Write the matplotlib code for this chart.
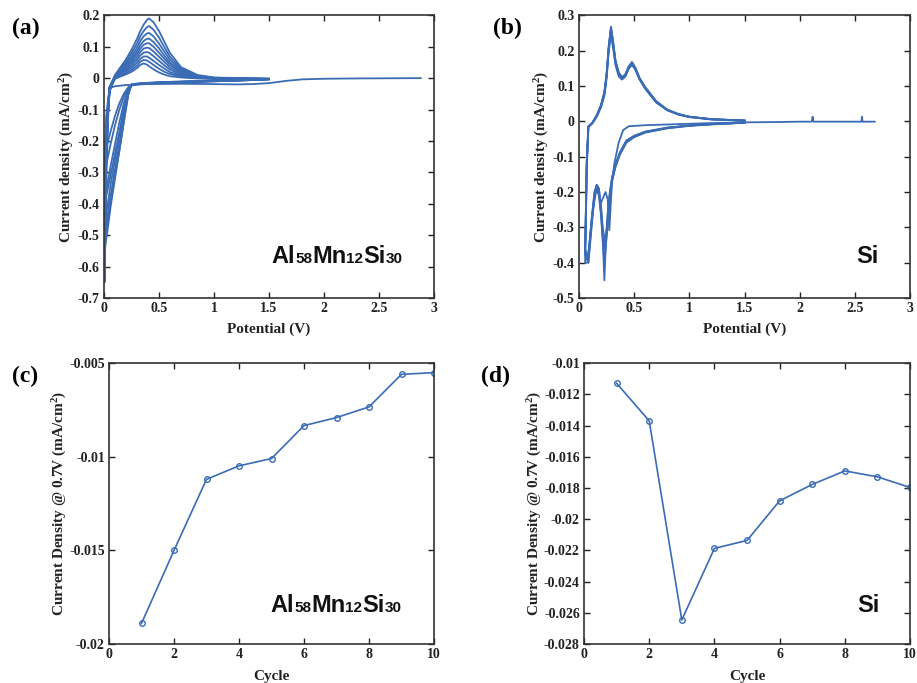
import numpy as np
import matplotlib
matplotlib.use("Agg")
import matplotlib.pyplot as plt
from matplotlib.ticker import FuncFormatter
from matplotlib.offsetbox import TextArea, HPacker, AnchoredOffsetbox

plt.rcParams.update({"font.family": "Liberation Serif", "font.weight": "bold",
    "axes.unicode_minus": False, "mathtext.fontset": "custom",
    "mathtext.rm": "Liberation Serif:bold", "mathtext.bf": "Liberation Serif:bold",
    "mathtext.it": "Liberation Serif:bold"})
BLUE = "#3a6cb5"
W, H = 917, 683

# ---------------- (a) Al58Mn12Si30 CV ----------------
a_first_cat_v = [2.88, 2.6, 2.3, 2.0, 1.8, 1.65, 1.5, 1.35, 1.2, 1.0, 0.7, 0.4, 0.2, 0.1, 0.06, 0.04, 0.02, 0.005]
a_first_cat_i = [0.0, -0.0005, -0.001, -0.002, -0.004, -0.009, -0.016, -0.019, -0.020, -0.019, -0.018,
                 -0.019, -0.022, -0.026, -0.03, -0.08, -0.35, -0.65]
a_cat_v = [1.5, 1.2, 0.9, 0.6, 0.4, 0.3, 0.25, 0.22, 0.18, 0.14, 0.1, 0.06, 0.03, 0.005]
a_cat_i = [
    [-0.004, -0.008, -0.011, -0.014, -0.017, -0.019, -0.022, -0.03, -0.06, -0.1, -0.15, -0.21, -0.26, -0.30],
    [-0.003, -0.007, -0.010, -0.013, -0.016, -0.019, -0.021, -0.045, -0.12, -0.21, -0.29, -0.38, -0.46, -0.52],
    [-0.004, -0.008, -0.011, -0.014, -0.017, -0.02, -0.023, -0.035, -0.08, -0.14, -0.21, -0.28, -0.34, -0.38],
    [-0.003, -0.007, -0.010, -0.013, -0.016, -0.019, -0.021, -0.05, -0.13, -0.22, -0.3, -0.38, -0.44, -0.48],
    [-0.004, -0.008, -0.011, -0.014, -0.017, -0.02, -0.024, -0.03, -0.05, -0.08, -0.12, -0.17, -0.21, -0.25],
    [-0.003, -0.007, -0.010, -0.013, -0.016, -0.018, -0.021, -0.04, -0.1, -0.18, -0.26, -0.34, -0.41, -0.45],
    [-0.003, -0.006, -0.009, -0.012, -0.015, -0.018, -0.02, -0.05, -0.14, -0.23, -0.32, -0.41, -0.49, -0.55],
    [-0.003, -0.007, -0.010, -0.013, -0.016, -0.018, -0.021, -0.04, -0.1, -0.17, -0.24, -0.31, -0.36, -0.40],
    [-0.003, -0.006, -0.009, -0.012, -0.015, -0.018, -0.02, -0.055, -0.14, -0.23, -0.31, -0.39, -0.46, -0.50],
]
a_an_v = [0.005, 0.02, 0.05, 0.1, 0.15, 0.2, 0.25, 0.3, 0.33, 0.36, 0.39, 0.41, 0.45, 0.5, 0.55, 0.6, 0.7, 0.85, 1.0, 1.5]
a_an_i = [
    [-0.65, -0.25, -0.04, -0.002, 0.005, 0.012, 0.02, 0.032, 0.042, 0.047, 0.043, 0.038, 0.028, 0.018, 0.011, 0.006, 0.002, -0.001, -0.002, -0.003],
    [-0.30, -0.14, -0.035, -0.001, 0.008, 0.016, 0.026, 0.040, 0.052, 0.058, 0.056, 0.052, 0.042, 0.030, 0.020, 0.013, 0.005, 0.000, -0.002, -0.003],
    [-0.52, -0.20, -0.03, 0.000, 0.010, 0.021, 0.033, 0.049, 0.061, 0.069, 0.069, 0.065, 0.055, 0.042, 0.030, 0.019, 0.008, 0.001, -0.001, -0.003],
    [-0.38, -0.16, -0.035, 0.001, 0.013, 0.025, 0.040, 0.058, 0.072, 0.081, 0.083, 0.081, 0.070, 0.055, 0.040, 0.027, 0.011, 0.002, -0.001, -0.003],
    [-0.48, -0.19, -0.03, 0.003, 0.016, 0.030, 0.047, 0.067, 0.083, 0.094, 0.097, 0.096, 0.085, 0.068, 0.051, 0.034, 0.015, 0.003, -0.001, -0.003],
    [-0.25, -0.12, -0.03, 0.004, 0.019, 0.035, 0.054, 0.077, 0.094, 0.106, 0.111, 0.111, 0.100, 0.081, 0.061, 0.042, 0.018, 0.004, 0.000, -0.003],
    [-0.45, -0.18, -0.032, 0.005, 0.022, 0.040, 0.061, 0.086, 0.105, 0.118, 0.125, 0.126, 0.115, 0.095, 0.071, 0.049, 0.021, 0.005, 0.000, -0.002],
    [-0.55, -0.22, -0.03, 0.006, 0.026, 0.046, 0.069, 0.097, 0.118, 0.133, 0.142, 0.144, 0.133, 0.110, 0.084, 0.058, 0.025, 0.007, 0.001, -0.002],
    [-0.40, -0.17, -0.03, 0.008, 0.030, 0.052, 0.079, 0.110, 0.133, 0.150, 0.162, 0.166, 0.154, 0.129, 0.098, 0.068, 0.030, 0.008, 0.001, -0.002],
    [-0.50, -0.20, -0.03, 0.010, 0.035, 0.060, 0.090, 0.125, 0.150, 0.170, 0.185, 0.190, 0.178, 0.150, 0.115, 0.080, 0.035, 0.010, 0.002, -0.002],
]

# ---------------- (b) Si CV ----------------
b_first_cat_v = [2.68, 2.57, 2.565, 2.56, 2.5, 2.2, 2.125, 2.117, 2.11, 2.0, 1.8, 1.5, 1.2, 0.9, 0.6, 0.45, 0.4,
                 0.36, 0.32, 0.3, 0.285, 0.275, 0.26, 0.24, 0.2, 0.16, 0.12, 0.09, 0.07, 0.055]
b_first_cat_i = [-0.001, -0.001, 0.013, -0.001, -0.001, -0.001, -0.001, 0.013, -0.001, -0.001, -0.002, -0.003,
                 -0.005, -0.008, -0.011, -0.014, -0.025, -0.06, -0.12, -0.17, -0.25, -0.308, -0.22, -0.2, -0.23,
                 -0.19, -0.26, -0.36, -0.39, -0.37]
b_cat_v = [1.5, 1.2, 1.0, 0.8, 0.6, 0.5, 0.43, 0.37, 0.33, 0.3, 0.28, 0.26, 0.245, 0.23, 0.215, 0.2, 0.18,
           0.16, 0.14, 0.12, 0.1, 0.085, 0.07, 0.06, 0.055]
b_cat_i = [
    [-0.004, -0.008, -0.012, -0.018, -0.03, -0.042, -0.055, -0.09, -0.125, -0.16, -0.2, -0.26, -0.33, -0.45, -0.33, -0.26, -0.2, -0.185, -0.21, -0.27, -0.34, -0.4, -0.39, -0.375, -0.37],
    [-0.004, -0.009, -0.013, -0.02, -0.032, -0.045, -0.06, -0.095, -0.13, -0.17, -0.22, -0.3, -0.34, -0.33, -0.3, -0.24, -0.19, -0.18, -0.2, -0.26, -0.33, -0.39, -0.385, -0.38, -0.38],
    [-0.004, -0.008, -0.012, -0.019, -0.031, -0.043, -0.058, -0.092, -0.128, -0.165, -0.21, -0.28, -0.32, -0.36, -0.31, -0.25, -0.19, -0.18, -0.205, -0.265, -0.33, -0.385, -0.38, -0.365, -0.36],
    [-0.004, -0.008, -0.012, -0.018, -0.029, -0.041, -0.054, -0.088, -0.122, -0.158, -0.2, -0.27, -0.35, -0.4, -0.34, -0.27, -0.205, -0.19, -0.215, -0.28, -0.35, -0.4, -0.4, -0.4, -0.4],
]
b_an_v = [0.055, 0.06, 0.07, 0.085, 0.12, 0.16, 0.2, 0.23, 0.25, 0.27, 0.29, 0.31, 0.33, 0.36, 0.39, 0.42,
          0.45, 0.48, 0.51, 0.55, 0.6, 0.7, 0.8, 0.9, 1.0, 1.2, 1.5]
b_an_i = [
    [-0.37, -0.3, -0.12, -0.015, -0.006, 0.012, 0.04, 0.072, 0.12, 0.2, 0.245, 0.205, 0.16, 0.127, 0.118, 0.127, 0.148, 0.16, 0.146, 0.118, 0.092, 0.053, 0.031, 0.019, 0.012, 0.005, 0.002],
    [-0.37, -0.3, -0.12, -0.015, -0.005, 0.015, 0.045, 0.08, 0.13, 0.21, 0.265, 0.22, 0.17, 0.135, 0.122, 0.13, 0.152, 0.165, 0.15, 0.12, 0.095, 0.055, 0.032, 0.02, 0.013, 0.006, 0.002],
    [-0.38, -0.31, -0.13, -0.016, -0.005, 0.016, 0.047, 0.083, 0.135, 0.215, 0.268, 0.224, 0.173, 0.138, 0.125, 0.133, 0.155, 0.168, 0.152, 0.122, 0.097, 0.057, 0.033, 0.021, 0.013, 0.006, 0.002],
    [-0.36, -0.29, -0.11, -0.014, -0.004, 0.014, 0.043, 0.078, 0.127, 0.205, 0.258, 0.215, 0.166, 0.132, 0.12, 0.128, 0.15, 0.162, 0.148, 0.119, 0.094, 0.054, 0.032, 0.02, 0.012, 0.006, 0.002],
    [-0.4, -0.33, -0.14, -0.017, -0.005, 0.016, 0.046, 0.082, 0.133, 0.212, 0.262, 0.222, 0.172, 0.137, 0.124, 0.132, 0.154, 0.166, 0.151, 0.121, 0.096, 0.056, 0.033, 0.02, 0.013, 0.006, 0.002],
]

# ---------------- (c), (d) current density @ 0.7 V ----------------
cycles = [1, 2, 3, 4, 5, 6, 7, 8, 9, 10]
j_alloy = [-0.0189, -0.0150, -0.0112, -0.01048, -0.01009, -0.00833, -0.0079, -0.00733, -0.00559, -0.0055]
j_si = [-0.01128, -0.01369, -0.02646, -0.02187, -0.02136, -0.01882, -0.01777, -0.0169, -0.01728, -0.01796]

fig = plt.figure(figsize=(W / 100, H / 100), dpi=100)

def px_axes(l, r, t, b):
    return fig.add_axes([l / W, 1 - b / H, (r - l) / W, (b - t) / H])

def style(ax):
    ax.tick_params(direction="in", top=True, right=True, length=4, width=1, labelsize=10, pad=3,
                   colors="#222222")
    for s in ax.spines.values():
        s.set_linewidth(1.2); s.set_color("#333333")
    fmt = FuncFormatter(lambda v, p: "%g" % (round(v, 6) + 0.0))
    ax.xaxis.set_major_formatter(fmt); ax.yaxis.set_major_formatter(fmt)
    for t in ax.get_xticklabels() + ax.get_yticklabels():
        t.set_fontweight("bold")

def labels(ax, xl, yl, xy, yx):
    ax.set_xlabel(xl, fontsize=11, fontweight="bold", color="#222222")
    ax.set_ylabel(yl, fontsize=11, fontweight="bold", color="#222222")
    ax.xaxis.set_label_coords(0.5, xy); ax.yaxis.set_label_coords(yx, 0.5)

def tag(ax, parts, xf, yf):
    kids = [TextArea(t, textprops=dict(family="Liberation Sans", weight="bold", size=s, color="#111111"))
            for t, s in parts]
    box = HPacker(children=kids, align="baseline", pad=0, sep=0)
    ab = AnchoredOffsetbox(loc="lower right", child=box, pad=0, borderpad=0, frameon=False,
                           bbox_to_anchor=(xf, yf), bbox_transform=ax.transAxes)
    ax.add_artist(ab)

alloy = [("Al", 17), ("58", 11), ("Mn", 17), ("12", 11), ("Si", 17), ("30", 11)]
si = [("Si", 17)]
ylab_cv = "Current density (mA/cm$^2$)"
ylab_j = "Current Density @ 0.7V (mA/cm$^2$)"

# (a)
ax = px_axes(104, 434, 15.3, 298)
ax.plot(a_first_cat_v + a_an_v, a_first_cat_i + a_an_i[0], color=BLUE, lw=1.3)
for k in range(1, len(a_an_i)):
    ax.plot(a_cat_v + a_an_v, a_cat_i[k - 1] + a_an_i[k], color=BLUE, lw=1.3)
ax.set_xlim(0, 3); ax.set_ylim(-0.7, 0.2)
ax.set_xticks(np.arange(0, 3.01, 0.5)); ax.set_yticks(np.arange(-0.7, 0.21, 0.1))
style(ax)
labels(ax, "Potential (V)", ylab_cv, -0.085, -0.085)
tag(ax, alloy, 0.905, 0.105)

# (b)
ax = px_axes(579, 910, 15.3, 298)
ax.plot(b_first_cat_v + b_an_v, b_first_cat_i + b_an_i[0], color=BLUE, lw=1.3)
for k in range(1, len(b_an_i)):
    ax.plot(b_cat_v + b_an_v, b_cat_i[k - 1] + b_an_i[k], color=BLUE, lw=1.3)
ax.set_xlim(0, 3); ax.set_ylim(-0.5, 0.3)
ax.set_xticks(np.arange(0, 3.01, 0.5)); ax.set_yticks(np.arange(-0.5, 0.31, 0.1))
style(ax)
labels(ax, "Potential (V)", ylab_cv, -0.085, -0.085)
tag(ax, si, 0.905, 0.105)

# (c)
ax = px_axes(109, 434, 363.3, 644)
ax.plot(cycles, j_alloy, color=BLUE, lw=1.2, marker="o", ms=4, mfc="none", mew=1)
ax.set_xlim(0, 10); ax.set_ylim(-0.02, -0.005)
ax.set_xticks(range(0, 11, 2)); ax.set_yticks([-0.02, -0.015, -0.01, -0.005])
style(ax)
labels(ax, "Cycle", ylab_j, -0.092, -0.122)
tag(ax, alloy, 0.9, 0.095)

# (d)
ax = px_axes(584, 910, 363.3, 644)
ax.plot(cycles, j_si, color=BLUE, lw=1.2, marker="o", ms=4, mfc="none", mew=1)
ax.set_xlim(0, 10); ax.set_ylim(-0.028, -0.01)
ax.set_xticks(range(0, 11, 2)); ax.set_yticks(np.arange(-0.028, -0.0099, 0.002))
style(ax)
labels(ax, "Cycle", ylab_j, -0.092, -0.122)
tag(ax, si, 0.905, 0.095)

for lab, x, y in [("(a)", 12, 28), ("(b)", 493, 28), ("(c)", 12, 376), ("(d)", 481, 376)]:
    fig.text(x / W, 1 - y / H, lab, fontsize=17, weight="bold", va="center", ha="left")

fig.savefig("out.png", dpi=100)
